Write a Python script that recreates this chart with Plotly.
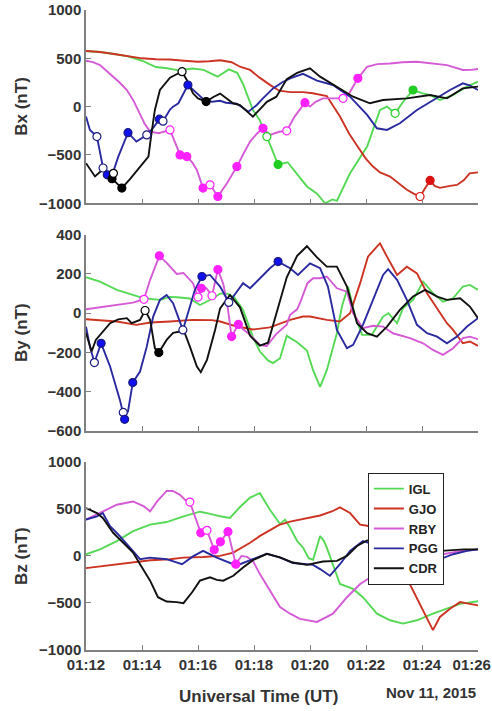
import plotly.graph_objects as go

# ---------------- data (time in minutes after 01:00 UT) ----------------
STATIONS = ["IGL", "GJO", "RBY", "PGG", "CDR"]

# ---- Bx ----
IGL_bx_t = [12.0, 12.5, 13.0, 13.5, 14.0, 14.5, 14.9, 15.3, 15.8, 16.2, 16.7, 17.1, 17.4, 17.6, 17.96, 18.2, 18.46, 18.86, 19.2, 19.5, 19.89, 20.25, 20.54, 20.8, 20.96, 21.43, 22.04, 22.5, 22.75, 23.04, 23.32, 23.68, 24.0, 24.3, 24.64, 25.1, 25.6, 26.0]
IGL_bx_v = [575, 565, 545, 520, 475, 410, 397, 375, 395, 380, 310, 386, 350, 240, -34, -137, -310, -600, -575, -680, -826, -900, -1000, -960, -975, -690, -413, -34, 0, -69, 48, 172, 140, 120, 69, 120, 207, 258]
GJO_bx_t = [12.0, 12.5, 13.0, 13.5, 14.0, 14.5, 15.0, 15.5, 16.0, 16.4, 16.8, 17.2, 17.5, 17.86, 18.2, 18.57, 18.9, 19.3, 19.75, 20.1, 20.6, 21.07, 21.4, 21.7, 22.0, 22.25, 22.5, 22.86, 23.2, 23.46, 23.7, 23.93, 24.1, 24.29, 24.45, 24.64, 25.0, 25.25, 25.5, 25.7, 26.0]
GJO_bx_v = [575, 565, 545, 520, 500, 490, 488, 475, 465, 470, 480, 460, 413, 380, 300, 225, 165, 150, 150, 138, 110, -103, -280, -413, -540, -620, -680, -723, -800, -860, -900, -930, -850, -764, -820, -840, -820, -810, -760, -690, -680]
RBY_bx_t = [12.0, 12.25, 12.5, 12.75, 12.97, 13.2, 13.46, 13.7, 13.93, 14.1, 14.29, 14.6, 15.0, 15.2, 15.36, 15.6, 15.8, 15.96, 16.18, 16.43, 16.71, 17.04, 17.39, 17.6, 17.86, 18.1, 18.32, 18.57, 18.9, 19.17, 19.45, 19.82, 20.0, 20.2, 20.46, 20.8, 21.18, 21.4, 21.71, 22.04, 22.4, 22.86, 23.3, 23.82, 24.3, 24.89, 25.46, 25.75, 26.0]
RBY_bx_v = [475, 460, 430, 370, 310, 250, 172, 60, -69, -180, -258, -275, -241, -380, -500, -517, -580, -655, -843, -809, -930, -790, -620, -500, -362, -280, -224, -293, -260, -250, -103, 41, 0, 50, 86, 86, 86, 138, 293, 413, 440, 447, 460, 465, 450, 430, 379, 380, 390]
PGG_bx_t = [12.0, 12.14, 12.39, 12.61, 12.76, 12.92, 13.15, 13.5, 13.8, 14.17, 14.4, 14.62, 14.75, 15.0, 15.11, 15.3, 15.64, 15.96, 16.18, 16.5, 16.79, 17.0, 17.39, 17.8, 18.1, 18.3, 18.68, 19.0, 19.29, 19.75, 20.25, 20.82, 21.43, 22.04, 22.39, 22.75, 23.21, 23.82, 24.39, 25.0, 25.46, 25.7, 26.0]
PGG_bx_v = [-103, -241, -310, -635, -706, -722, -520, -269, -362, -293, -220, -130, -150, -30, 0, 35, 224, 138, 80, 50, 60, 40, 30, -52, 17, 80, 189, 250, 293, 340, 270, 224, 103, -86, -224, -241, -172, -34, 69, 172, 241, 220, 172]
CDR_bx_t = [12.0, 12.32, 12.6, 12.8, 12.93, 13.1, 13.28, 13.57, 13.93, 14.23, 14.34, 14.46, 14.64, 15.0, 15.2, 15.43, 15.6, 15.82, 16.0, 16.29, 16.55, 16.79, 17.0, 17.25, 17.5, 17.96, 18.2, 18.46, 18.8, 19.17, 19.54, 20.0, 20.36, 20.96, 21.54, 22.14, 22.61, 23.46, 24.29, 24.89, 25.46, 26.0]
CDR_bx_v = [-585, -722, -650, -700, -745, -790, -843, -750, -620, -517, -275, -34, 172, 300, 330, 362, 276, 138, 86, 52, 100, 135, 90, 35, 17, -103, -30, 50, 103, 285, 350, 397, 310, 207, 103, 35, 69, 86, 120, 86, 189, 207]

# ---- By ----
IGL_by_t = [12.0, 12.5, 13.1, 13.68, 14.07, 14.64, 15.0, 15.24, 15.71, 16.07, 16.55, 16.79, 17.04, 17.3, 17.5, 17.61, 17.96, 18.21, 18.5, 18.68, 18.93, 19.17, 19.54, 19.89, 20.11, 20.36, 20.6, 20.96, 21.14, 21.36, 21.61, 21.86, 22.21, 22.61, 22.8, 23.11, 23.32, 23.68, 24.04, 24.39, 24.75, 25.11, 25.46, 25.71, 26.0]
IGL_by_v = [183, 161, 119, 93, 76, 68, 83, 81, 75, 42, 76, 100, 100, 80, 40, 17, -120, -195, -240, -254, -229, -115, -148, -190, -290, -375, -290, -102, 34, 136, -17, -110, -110, -17, 0, -51, 25, 68, 161, 102, 59, 76, 136, 144, 119]
GJO_by_t = [12.0, 12.7, 13.1, 13.8, 14.3, 15.0, 15.8, 16.5, 16.79, 17.39, 17.5, 17.96, 18.57, 19.29, 19.75, 20.0, 20.3, 20.6, 21.07, 21.43, 21.79, 22.07, 22.39, 22.5, 22.75, 23.11, 23.46, 23.82, 24.18, 24.54, 24.89, 25.11, 25.46, 25.71, 26.0]
GJO_by_v = [-31, -40, -42, -59, -47, -42, -34, -35, -42, -68, -70, -83, -72, -34, -17, -17, -25, -34, -42, 0, 153, 288, 339, 356, 288, 195, 237, 203, 102, 25, -51, -85, -153, -144, -166]
RBY_by_t = [12.0, 12.5, 13.1, 13.68, 14.07, 14.29, 14.62, 14.9, 15.24, 15.48, 15.82, 16.0, 16.12, 16.3, 16.5, 16.71, 16.9, 17.04, 17.2, 17.44, 17.6, 17.86, 18.21, 18.45, 18.79, 19.17, 19.29, 19.54, 19.64, 19.91, 20.11, 20.36, 20.6, 20.96, 21.32, 21.54, 21.89, 22.25, 22.61, 22.96, 23.57, 24.04, 24.39, 24.75, 25.11, 25.46, 25.71, 26.0]
RBY_by_v = [20, 31, 42, 54, 71, 170, 292, 254, 200, 205, 153, 82, 127, 127, 89, 222, 150, 51, -119, -57, -80, -110, -161, -168, -106, -59, -8, 20, 51, 153, 178, 178, 187, 127, 110, 0, -76, -64, -68, -102, -127, -153, -187, -212, -178, -127, -119, -132]
PGG_by_t = [12.0, 12.14, 12.3, 12.42, 12.54, 12.86, 13.21, 13.36, 13.5, 13.67, 13.93, 14.17, 14.4, 14.64, 14.88, 15.11, 15.36, 15.46, 15.64, 15.89, 16.14, 16.43, 16.79, 17.1, 17.3, 17.61, 17.86, 18.21, 18.57, 18.86, 19.29, 19.57, 20.0, 20.36, 20.64, 20.96, 21.32, 21.54, 21.89, 22.25, 22.61, 22.79, 23.11, 23.46, 23.82, 24.18, 24.54, 24.89, 25.25, 25.61, 26.0]
PGG_by_v = [-68, -170, -251, -204, -153, -271, -441, -530, -500, -353, -297, -170, -17, 68, 93, 51, -51, -85, 0, 119, 187, 195, 136, 55, 93, 153, 127, 178, 229, 263, 229, 195, 254, 229, 136, -85, -178, -161, -59, 68, 195, 224, 170, 68, -59, -102, -119, -153, -119, -68, -25]
CDR_by_t = [12.0, 12.2, 12.35, 12.61, 12.86, 13.15, 13.46, 13.63, 13.93, 14.11, 14.29, 14.46, 14.6, 14.88, 15.11, 15.36, 15.54, 15.71, 15.96, 16.1, 16.32, 16.61, 16.79, 17.14, 17.5, 17.86, 18.21, 18.5, 18.79, 19.17, 19.54, 19.89, 20.25, 20.6, 20.96, 21.32, 21.68, 22.04, 22.39, 22.75, 23.21, 23.68, 24.11, 24.54, 24.89, 25.36, 25.71, 26.0]
CDR_by_v = [-100, -195, -136, -93, -51, -31, -25, -51, -34, 14, -34, -178, -200, -136, -100, -93, -105, -170, -271, -300, -237, -85, 25, 93, 30, -115, -165, -150, 0, 183, 292, 341, 284, 237, 237, 136, -51, -102, -119, -68, 17, 85, 119, 85, 68, 76, 34, -25]

# ---- Bz ----
IGL_bz_t = [12.0, 12.5, 13.1, 13.68, 14.29, 14.88, 15.48, 16.07, 16.4, 16.79, 17.14, 17.5, 17.86, 18.21, 18.57, 18.93, 19.11, 19.29, 19.54, 19.75, 19.95, 20.11, 20.36, 20.5, 20.6, 21.07, 21.54, 21.89, 22.39, 22.86, 23.32, 23.82, 24.39, 24.89, 25.36, 26.0]
IGL_bz_v = [18, 70, 158, 263, 333, 360, 421, 470, 450, 421, 404, 520, 620, 667, 490, 340, 386, 300, 158, 88, -25, -40, 211, 158, 88, -298, -351, -439, -614, -684, -719, -684, -614, -561, -509, -481]
GJO_bz_t = [12.0, 12.8, 13.5, 14.3, 15.0, 15.48, 16.18, 16.79, 17.26, 17.5, 17.86, 18.2, 18.57, 18.9, 19.29, 19.75, 20.36, 20.8, 21.07, 21.43, 21.79, 22.14, 22.5, 22.86, 23.32, 23.68, 24.04, 24.39, 24.64, 25.0, 25.36, 25.71, 26.0]
GJO_bz_v = [-130, -100, -75, -46, -35, -18, -11, 0, 35, 75, 140, 210, 270, 330, 365, 390, 430, 475, 516, 456, 333, 316, 150, -53, -158, -368, -579, -789, -649, -561, -491, -509, -526]
RBY_bz_t = [12.0, 12.5, 13.1, 13.68, 14.07, 14.29, 14.54, 14.88, 15.1, 15.36, 15.54, 15.71, 15.89, 16.1, 16.32, 16.58, 16.8, 17.07, 17.35, 17.55, 17.75, 17.96, 18.21, 18.57, 18.93, 19.29, 19.64, 20.25, 20.82, 21.32, 21.79, 22.25, 22.86, 23.21, 23.82, 24.29, 24.75, 25.4, 26.0]
RBY_bz_v = [386, 456, 544, 579, 526, 474, 579, 691, 690, 649, 596, 572, 420, 246, 272, 65, 150, 258, -88, 0, -10, -53, -193, -368, -544, -614, -670, -702, -614, -439, -298, -211, -228, -211, -123, -70, 18, 53, 70]
PGG_bz_t = [12.0, 12.39, 12.6, 12.86, 13.21, 13.57, 13.93, 14.29, 14.88, 15.43, 15.82, 16.18, 16.67, 17.26, 17.5, 17.96, 18.46, 18.93, 19.39, 19.89, 20.11, 20.36, 20.71, 21.07, 21.43, 21.89, 22.3, 22.7, 22.96, 23.32, 23.82, 24.18, 24.64, 25.11, 25.61, 26.0]
PGG_bz_v = [386, 421, 456, 316, 211, 88, -35, -18, -35, -88, -5, 53, -18, -88, -88, -35, 22, -18, -75, -88, -95, -140, -211, -88, 53, 158, 120, -50, -123, -193, -221, -158, -35, 18, 53, 70]
CDR_bz_t = [12.0, 12.39, 12.6, 12.97, 13.33, 13.68, 13.93, 14.29, 14.57, 14.88, 15.24, 15.48, 15.79, 16.07, 16.43, 16.67, 16.9, 17.26, 17.61, 17.96, 18.46, 18.93, 19.39, 19.89, 20.46, 20.96, 21.32, 21.68, 22.04, 22.5, 23.0, 23.5, 24.0, 24.5, 25.0, 25.5, 26.0]
CDR_bz_v = [509, 456, 404, 246, 140, 35, -88, -263, -439, -485, -491, -502, -386, -263, -228, -255, -263, -211, -123, -45, 22, -15, -70, -95, -60, -53, 0, 105, 165, 140, 60, 30, 40, 50, 60, 70, 70]

# ---- circle markers (time, value, filled) ----
MK_bx = {
    "IGL": ([18.46, 18.86, 23.04, 23.68], [-310, -600, -69, 172], [0, 1, 0, 1]),
    "GJO": ([23.93, 24.29], [-930, -764], [0, 1]),
    "RBY": ([15.0, 15.36, 15.6, 16.18, 16.43, 16.71, 17.39, 18.32, 19.17, 19.82, 21.18, 21.71],
            [-241, -500, -517, -843, -809, -930, -620, -224, -250, 41, 86, 293],
            [0, 1, 1, 1, 0, 1, 1, 1, 0, 1, 0, 1]),
    "PGG": ([12.39, 12.61, 12.76, 13.5, 14.17, 14.62, 14.75, 15.64],
            [-310, -635, -706, -269, -293, -130, -150, 224],
            [0, 0, 1, 1, 0, 1, 0, 1]),
    "CDR": ([12.93, 12.98, 13.28, 15.43, 16.29], [-745, -690, -843, 362, 52], [1, 0, 1, 0, 1]),
}
MK_by = {
    "RBY": ([14.07, 14.62, 16.0, 16.12, 16.5, 16.71, 17.2, 17.44],
            [71, 292, 82, 127, 89, 222, -119, -57],
            [0, 1, 0, 1, 0, 1, 1, 1]),
    "PGG": ([12.3, 12.54, 13.33, 13.38, 13.67, 15.46, 16.14, 17.1, 18.86],
            [-251, -153, -505, -540, -353, -85, 187, 55, 263],
            [0, 1, 0, 1, 1, 0, 1, 0, 1]),
    "CDR": ([14.11, 14.6], [14, -200], [0, 1]),
}
MK_bz = {
    "RBY": ([15.71, 16.1, 16.32, 16.58, 16.8, 17.07, 17.35],
            [572, 246, 272, 65, 150, 258, -88],
            [0, 1, 0, 1, 1, 1, 1]),
}

TICK_MIN = [12, 14, 16, 18, 20, 22, 24, 26]
# the last label is padded so it sits inside the page edge, as in the original
TICK_TXT = ["01:12", "01:14", "01:16", "01:18", "01:20", "01:22", "01:24", "01:26\u00a0\u00a0\u00a0"]

LINE_COL = {"IGL": "#55d955", "GJO": "#cc3322", "RBY": "#d55ad5", "PGG": "#2a2aa0", "CDR": "#111111"}
MK_COL = {"IGL": "#22cc22", "GJO": "#dd1111", "RBY": "#ff22ff", "PGG": "#1010ee", "CDR": "#000000"}

panels = [
    ({"IGL": (IGL_bx_t, IGL_bx_v), "GJO": (GJO_bx_t, GJO_bx_v), "RBY": (RBY_bx_t, RBY_bx_v),
      "PGG": (PGG_bx_t, PGG_bx_v), "CDR": (CDR_bx_t, CDR_bx_v)}, MK_bx),
    ({"IGL": (IGL_by_t, IGL_by_v), "GJO": (GJO_by_t, GJO_by_v), "RBY": (RBY_by_t, RBY_by_v),
      "PGG": (PGG_by_t, PGG_by_v), "CDR": (CDR_by_t, CDR_by_v)}, MK_by),
    ({"IGL": (IGL_bz_t, IGL_bz_v), "GJO": (GJO_bz_t, GJO_bz_v), "RBY": (RBY_bz_t, RBY_bz_v),
      "PGG": (PGG_bz_t, PGG_bz_v), "CDR": (CDR_bz_t, CDR_bz_v)}, MK_bz),
]

fig = go.Figure()
for i, (series, marks) in enumerate(panels, start=1):
    xa = "x" if i == 1 else f"x{i}"
    ya = "y" if i == 1 else f"y{i}"
    for s in STATIONS:
        t, v = series[s]
        fig.add_trace(go.Scatter(x=t, y=v, mode="lines", name=s,
                                 line=dict(color=LINE_COL[s], width=1.9),
                                 showlegend=(i == 1), xaxis=xa, yaxis=ya, hoverinfo="skip"))
    for s in STATIONS:
        if s not in marks:
            continue
        t, v, f = marks[s]
        fills = [MK_COL[s] if k else "white" for k in f]
        fig.add_trace(go.Scatter(x=t, y=v, mode="markers", showlegend=False,
                                 marker=dict(symbol="circle", size=8, color=fills,
                                             line=dict(color=MK_COL[s] if s != "PGG" else "#1a1a80", width=1.2)),
                                 xaxis=xa, yaxis=ya, hoverinfo="skip"))

FONT = "Liberation Sans, Arial, Helvetica, sans-serif"
TXT = "#333333"
AX = "#808080"

def xaxis(anchor, labels):
    return dict(range=[12, 26], tickvals=TICK_MIN, ticktext=TICK_TXT, showticklabels=labels,
                ticks="inside", ticklen=5, tickcolor=AX, tickwidth=1.2,
                showline=True, linecolor=AX, linewidth=1.5, showgrid=False, zeroline=False,
                anchor=anchor, domain=[0, 1], automargin=False, ticklabeloverflow="allow",
                tickfont=dict(family=FONT, size=15, color=TXT, weight="bold"))

def yaxis(anchor, rng, dtick, dom):
    return dict(range=rng, dtick=dtick, tick0=0, ticks="inside", ticklen=5, tickcolor=AX, tickwidth=1.2,
                showline=True, linecolor=AX, linewidth=1.5, showgrid=False, zeroline=False,
                anchor=anchor, domain=dom, automargin=False, ticklabeloverflow="allow",
                tickfont=dict(family=FONT, size=15, color=TXT, weight="bold"))

D1 = [0.698, 1.0]
D2 = [0.342, 0.649]
D3 = [0.0, 0.294]

fig.update_layout(
    width=492, height=711,
    margin=dict(l=86, r=14, t=10, b=61, autoexpand=False),
    paper_bgcolor="white", plot_bgcolor="white",
    xaxis=xaxis("y", False), yaxis=yaxis("x", [-1000, 1000], 500, D1),
    xaxis2=xaxis("y2", False), yaxis2=yaxis("x2", [-600, 400], 200, D2),
    xaxis3=xaxis("y3", True), yaxis3=yaxis("x3", [-1000, 1000], 500, D3),
    legend=dict(x=0.719, y=0.277, xanchor="left", yanchor="top", xref="paper", yref="paper",
                bgcolor="white", bordercolor="#222222", borderwidth=1,
                font=dict(family=FONT, size=13, color="#222222", weight="bold"),
                tracegroupgap=0, itemwidth=30),
    showlegend=True,
)

title_font = dict(family=FONT, size=17, color=TXT, weight="bold")
for label, dom in [("Bx (nT)", D1), ("By (nT)", D2), ("Bz (nT)", D3)]:
    fig.add_annotation(text=label, xref="paper", yref="paper", x=-0.163, y=(dom[0] + dom[1]) / 2,
                       textangle=-90, showarrow=False, font=title_font, xanchor="center", yanchor="middle")
fig.add_annotation(text="Universal Time (UT)", xref="paper", yref="paper", x=0.441, y=-0.073,
                   showarrow=False, font=title_font, xanchor="center", yanchor="middle")
fig.add_annotation(text="Nov 11, 2015", xref="paper", yref="paper", x=0.879, y=-0.067,
                   showarrow=False, font=dict(family=FONT, size=15, color=TXT, weight="bold"),
                   xanchor="center", yanchor="middle")

fig.write_html("out.html", config={"displayModeBar": False},
               post_script="document.body.style.margin='0px';document.body.style.overflow='hidden';")
